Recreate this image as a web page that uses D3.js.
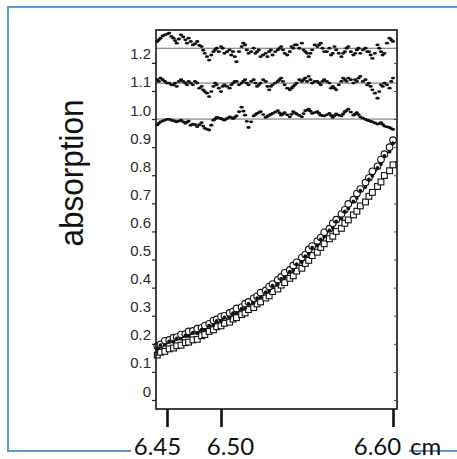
<!DOCTYPE html>
<html>
<head>
<meta charset="utf-8">
<script src="https://cdn.jsdelivr.net/npm/d3@7"></script>
<style>
  body { margin: 0; background: #fff; }
  svg { display: block; }
</style>
</head>
<body>
<svg id="chart"></svg>
<script>
// positions along the cell (cm)
const positions = [6.441, 6.444, 6.448, 6.452, 6.456, 6.459, 6.463, 6.467, 6.470, 6.474,
  6.478, 6.482, 6.485, 6.489, 6.493, 6.496, 6.500, 6.502, 6.505, 6.507,
  6.509, 6.512, 6.514, 6.516, 6.519, 6.521, 6.523, 6.526, 6.528, 6.530,
  6.533, 6.535, 6.537, 6.540, 6.542, 6.544, 6.547, 6.549, 6.551, 6.553,
  6.556, 6.558, 6.560, 6.563, 6.565, 6.567, 6.570, 6.572, 6.574, 6.577,
  6.579, 6.581, 6.584, 6.586, 6.588, 6.591, 6.593, 6.595, 6.598, 6.600];
// in-between readings of the baseline scans
const midPositions = [6.4425, 6.446, 6.450, 6.454, 6.4575, 6.461, 6.465, 6.4685, 6.472, 6.476,
  6.480, 6.4835, 6.487, 6.491, 6.4945, 6.498, 6.501, 6.5035, 6.506, 6.508,
  6.5105, 6.513, 6.515, 6.5175, 6.520, 6.522, 6.5245, 6.527, 6.529, 6.5315,
  6.534, 6.536, 6.5385, 6.541, 6.543, 6.5455, 6.548, 6.550, 6.552, 6.5545,
  6.557, 6.559, 6.5615, 6.564, 6.566, 6.5685, 6.571, 6.573, 6.5755, 6.578,
  6.580, 6.5825, 6.585, 6.587, 6.5895, 6.592, 6.594, 6.5965, 6.599];

// noisy baseline scans (top three)
const upperScan = [1.276, 1.288, 1.300, 1.306, 1.288, 1.270, 1.300, 1.282, 1.288, 1.264,
  1.276, 1.258, 1.234, 1.210, 1.240, 1.252, 1.258, 1.234, 1.246, 1.240,
  1.204, 1.258, 1.264, 1.234, 1.252, 1.240, 1.222, 1.234, 1.240, 1.228,
  1.246, 1.258, 1.234, 1.240, 1.252, 1.264, 1.270, 1.240, 1.222, 1.246,
  1.258, 1.270, 1.240, 1.252, 1.234, 1.246, 1.222, 1.240, 1.258, 1.228,
  1.246, 1.234, 1.252, 1.240, 1.216, 1.264, 1.240, 1.234, 1.288, 1.276];
const upperScanMid = [1.282, 1.296, 1.302, 1.294, 1.279, 1.285, 1.292, 1.270, 1.276, 1.268,
  1.262, 1.245, 1.222, 1.228, 1.246, 1.240, 1.252, 1.240, 1.228, 1.222,
  1.240, 1.270, 1.246, 1.240, 1.234, 1.246, 1.228, 1.222, 1.246, 1.240,
  1.252, 1.246, 1.228, 1.258, 1.264, 1.252, 1.246, 1.234, 1.234, 1.264,
  1.264, 1.252, 1.240, 1.228, 1.258, 1.234, 1.234, 1.252, 1.240, 1.234,
  1.252, 1.246, 1.240, 1.228, 1.234, 1.252, 1.228, 1.270, 1.282];
const middleScan = [1.140, 1.146, 1.134, 1.128, 1.122, 1.116, 1.140, 1.128, 1.134, 1.122,
  1.128, 1.116, 1.098, 1.080, 1.116, 1.122, 1.098, 1.122, 1.110, 1.128,
  1.134, 1.128, 1.140, 1.122, 1.140, 1.116, 1.128, 1.134, 1.104, 1.122,
  1.134, 1.146, 1.122, 1.104, 1.116, 1.128, 1.134, 1.146, 1.152, 1.128,
  1.134, 1.122, 1.140, 1.128, 1.116, 1.104, 1.134, 1.140, 1.146, 1.128,
  1.134, 1.152, 1.140, 1.128, 1.104, 1.074, 1.122, 1.128, 1.110, 1.146];
const middleScanMid = [1.134, 1.140, 1.128, 1.122, 1.128, 1.134, 1.134, 1.122, 1.128, 1.134,
  1.110, 1.104, 1.092, 1.098, 1.128, 1.110, 1.116, 1.116, 1.122, 1.134,
  1.122, 1.134, 1.128, 1.134, 1.128, 1.122, 1.140, 1.116, 1.116, 1.128,
  1.140, 1.134, 1.110, 1.110, 1.122, 1.140, 1.140, 1.134, 1.140, 1.134,
  1.128, 1.134, 1.134, 1.110, 1.110, 1.122, 1.146, 1.134, 1.140, 1.140,
  1.146, 1.134, 1.122, 1.116, 1.092, 1.098, 1.116, 1.122, 1.134];
const lowerScan = [0.979, 0.990, 0.996, 0.999, 0.994, 0.990, 0.996, 0.985, 0.993, 0.982,
  0.973, 0.987, 0.967, 0.961, 0.996, 1.006, 1.002, 0.996, 1.008, 1.002,
  1.011, 1.042, 1.014, 0.970, 1.011, 1.020, 1.026, 1.006, 1.014, 1.020,
  1.030, 1.014, 1.023, 1.008, 1.026, 1.018, 1.008, 1.030, 1.035, 1.020,
  1.026, 1.014, 1.011, 1.020, 1.006, 1.018, 1.011, 1.026, 1.035, 1.014,
  1.023, 1.008, 0.999, 0.994, 0.990, 0.982, 0.987, 0.975, 0.970, 0.963];
const lowerScanMid = [0.985, 0.993, 0.999, 0.996, 0.992, 0.993, 0.990, 0.989, 0.978, 0.980,
  0.980, 0.975, 0.964, 0.978, 1.000, 1.004, 0.999, 1.002, 1.005, 1.006,
  1.026, 1.028, 0.992, 0.990, 1.016, 1.023, 1.016, 1.010, 1.017, 1.025,
  1.022, 1.018, 1.015, 1.017, 1.022, 1.013, 1.019, 1.032, 1.028, 1.023,
  1.020, 1.012, 1.015, 1.013, 1.012, 1.014, 1.018, 1.030, 1.025, 1.018,
  1.016, 1.003, 0.996, 0.992, 0.986, 0.984, 0.981, 0.972, 0.966];
const scanBaselines = [1.252, 1.128, 1.0];

// boundary scans (bottom)
const filledDots = [0.182, 0.195, 0.196, 0.209, 0.207, 0.219, 0.218, 0.229, 0.228, 0.240,
  0.238, 0.250, 0.250, 0.265, 0.267, 0.282, 0.281, 0.294, 0.294, 0.309,
  0.310, 0.325, 0.327, 0.343, 0.346, 0.363, 0.366, 0.384, 0.388, 0.407,
  0.412, 0.432, 0.437, 0.457, 0.463, 0.484, 0.491, 0.512, 0.520, 0.542,
  0.550, 0.572, 0.581, 0.604, 0.613, 0.636, 0.646, 0.671, 0.682, 0.707,
  0.719, 0.745, 0.758, 0.785, 0.798, 0.826, 0.840, 0.869, 0.884, 0.914];
const openCircles = [0.192, 0.198, 0.211, 0.214, 0.222, 0.224, 0.233, 0.235, 0.244, 0.246,
  0.254, 0.257, 0.265, 0.271, 0.283, 0.287, 0.297, 0.300, 0.310, 0.315,
  0.326, 0.331, 0.343, 0.349, 0.362, 0.369, 0.382, 0.390, 0.404, 0.413,
  0.428, 0.438, 0.453, 0.463, 0.479, 0.490, 0.507, 0.518, 0.536, 0.548,
  0.566, 0.578, 0.597, 0.610, 0.629, 0.642, 0.662, 0.677, 0.698, 0.713,
  0.735, 0.751, 0.774, 0.791, 0.814, 0.832, 0.856, 0.875, 0.900, 0.925];
const openSquares = [0.160, 0.170, 0.173, 0.182, 0.185, 0.193, 0.195, 0.204, 0.206, 0.214,
  0.216, 0.229, 0.233, 0.244, 0.250, 0.261, 0.264, 0.273, 0.277, 0.288,
  0.293, 0.304, 0.310, 0.322, 0.329, 0.342, 0.349, 0.363, 0.371, 0.386,
  0.395, 0.409, 0.418, 0.433, 0.442, 0.459, 0.469, 0.486, 0.497, 0.514,
  0.526, 0.543, 0.556, 0.574, 0.583, 0.600, 0.611, 0.629, 0.641, 0.659,
  0.672, 0.691, 0.705, 0.725, 0.739, 0.760, 0.776, 0.799, 0.816, 0.837];

// fitted curves
const fitX = [6.441, 6.459, 6.478, 6.496, 6.509, 6.521, 6.533, 6.544, 6.556, 6.567, 6.579, 6.591, 6.600, 6.602];
const fitUpper = [0.185, 0.215, 0.241, 0.278, 0.313, 0.359, 0.415, 0.480, 0.553, 0.632, 0.722, 0.822, 0.910, 0.930];
const fitLower = [0.162, 0.191, 0.217, 0.258, 0.293, 0.339, 0.395, 0.456, 0.526, 0.597, 0.672, 0.757, 0.837, 0.850];

const yTicks = [0, 0.1, 0.2, 0.3, 0.4, 0.5, 0.6, 0.7, 0.8, 0.9, 1.0, 1.1, 1.2];
const xTicks = [6.45, 6.50, 6.60];
const xTickLabels = ['6.45', '6.50', '6.60'];
const xUnit = 'cm';
const yTitle = 'absorption';

class AbsorptionPlot {
    constructor(_config) {
        this.config = {
            parentElement: _config.parentElement,
            containerWidth: _config.containerWidth || 457,
            containerHeight: _config.containerHeight || 459,
            plot: { left: 156, right: 397, top: 30, bottom: 409 }
        };
        this.initVis();
    }

    initVis() {
        let vis = this;
        const p = vis.config.plot;

        vis.svg = d3.select(vis.config.parentElement)
            .attr('width', vis.config.containerWidth)
            .attr('height', vis.config.containerHeight);

        // blue slide frame, partly hidden behind the pasted figure
        vis.svg.append('rect')
            .attr('x', 8).attr('y', 7)
            .attr('width', 470).attr('height', 444)
            .attr('fill', 'none')
            .attr('stroke', '#5b9bd5')
            .attr('stroke-width', 2);
        vis.svg.append('rect')
            .attr('x', 131).attr('y', 444)
            .attr('width', 278).attr('height', 15)
            .attr('fill', '#fff');

        // x axis isn't evenly spaced in the original figure
        vis.xScale = d3.scaleLinear()
            .domain(xTicks)
            .range([167, 221, 393]);

        vis.yScale = d3.scaleLinear()
            .domain([-0.032, 1.317])
            .range([p.bottom, p.top]);

        vis.updateVis();
    }

    updateVis() {
        let vis = this;
        const p = vis.config.plot;
        const x = vis.xScale, y = vis.yScale;

        // reference lines for the scans
        vis.svg.selectAll('.baseline')
            .data(scanBaselines)
            .join('line')
            .attr('class', 'baseline')
            .attr('x1', p.left).attr('x2', p.right)
            .attr('y1', d => y(d)).attr('y2', d => y(d))
            .attr('stroke', '#6a6a6a')
            .attr('stroke-width', 1);

        const scans = [
            [positions, upperScan], [midPositions, upperScanMid],
            [positions, middleScan], [midPositions, middleScanMid],
            [positions, lowerScan], [midPositions, lowerScanMid]
        ];
        scans.forEach(([xs, scan], k) => {
            vis.svg.selectAll('.scan' + k)
                .data(scan)
                .join('ellipse')
                .attr('class', 'scan' + k)
                .attr('cx', (d, i) => x(xs[i]))
                .attr('cy', d => y(d))
                .attr('rx', 2.1).attr('ry', 1.4)
                .attr('fill', '#111');
        });

        // fitted lines
        const line = d3.line()
            .x(d => x(d[0]))
            .y(d => y(d[1]))
            .curve(d3.curveMonotoneX);
        [fitLower, fitUpper].forEach(fit => {
            vis.svg.append('path')
                .datum(fit.map((v, i) => [fitX[i], v]))
                .attr('d', line)
                .attr('fill', 'none')
                .attr('stroke', '#222')
                .attr('stroke-width', 1.2);
        });

        vis.svg.selectAll('.sq')
            .data(openSquares)
            .join('rect')
            .attr('class', 'sq')
            .attr('x', (d, i) => x(positions[i]) - 2.9)
            .attr('y', d => y(d) - 2.9)
            .attr('width', 5.8).attr('height', 5.8)
            .attr('fill', '#fff')
            .attr('stroke', '#111')
            .attr('stroke-width', 1.1);

        vis.svg.selectAll('.oc')
            .data(openCircles)
            .join('circle')
            .attr('class', 'oc')
            .attr('cx', (d, i) => x(positions[i]))
            .attr('cy', d => y(d))
            .attr('r', 3.3)
            .attr('fill', '#fff')
            .attr('stroke', '#111')
            .attr('stroke-width', 1.1);

        vis.svg.selectAll('.fd')
            .data(filledDots)
            .join('circle')
            .attr('class', 'fd')
            .attr('cx', (d, i) => x(positions[i]))
            .attr('cy', d => y(d))
            .attr('r', 1.9)
            .attr('fill', '#111');

        // plot frame
        vis.svg.append('rect')
            .attr('x', p.left).attr('y', p.top)
            .attr('width', p.right - p.left).attr('height', p.bottom - p.top)
            .attr('fill', 'none')
            .attr('stroke', '#111')
            .attr('stroke-width', 1.6);

        // left axis
        const yAxisG = vis.svg.append('g')
            .attr('transform', `translate(${p.left},0)`)
            .call(d3.axisLeft(y)
                .tickValues(yTicks)
                .tickSize(4)
                .tickPadding(1)
                .tickFormat(d => d === 0 ? '0' : d3.format('.1f')(d)));
        yAxisG.select('.domain').remove();
        yAxisG.selectAll('line').attr('stroke', '#222').attr('stroke-width', 1.2);
        yAxisG.selectAll('text')
            .attr('dy', -4)
            .attr('fill', '#2a2a2a')
            .style('font-family', '"Liberation Sans", Arial, sans-serif')
            .style('font-size', '15px');

        // right axis, small inward ticks
        const rAxisG = vis.svg.append('g')
            .attr('transform', `translate(${p.right},0)`)
            .call(d3.axisLeft(y).tickValues(yTicks).tickSize(3).tickFormat(''));
        rAxisG.select('.domain').remove();
        rAxisG.selectAll('line').attr('stroke', '#444');

        // bottom axis, big ticks with labels set over the figure
        const shifts = [-10, 9, -16];
        const xAxisG = vis.svg.append('g')
            .attr('transform', `translate(0,${p.bottom})`)
            .call(d3.axisBottom(x)
                .tickValues(xTicks)
                .tickSize(18)
                .tickPadding(11)
                .tickFormat((d, i) => xTickLabels[i]));
        xAxisG.select('.domain').remove();
        xAxisG.selectAll('line').attr('stroke', '#111').attr('stroke-width', 2.6);
        xAxisG.selectAll('text')
            .attr('x', (d, i) => shifts[i])
            .attr('fill', '#111')
            .style('font-family', 'Lato, "Open Sans", sans-serif')
            .style('font-size', '24px');

        vis.svg.append('text')
            .attr('x', 410).attr('y', 455)
            .attr('fill', '#111')
            .style('font-family', 'Lato, "Open Sans", sans-serif')
            .style('font-size', '24px')
            .text(xUnit);

        // y title
        vis.svg.append('text')
            .attr('transform', 'translate(83,173) rotate(-90)')
            .attr('text-anchor', 'middle')
            .attr('textLength', 147)
            .attr('lengthAdjust', 'spacingAndGlyphs')
            .attr('fill', '#111')
            .style('font-family', '"Liberation Sans Narrow", "Liberation Sans", sans-serif')
            .style('font-size', '34px')
            .text(yTitle);
    }
}

const plot = new AbsorptionPlot({ parentElement: '#chart' });
</script>
</body>
</html>
